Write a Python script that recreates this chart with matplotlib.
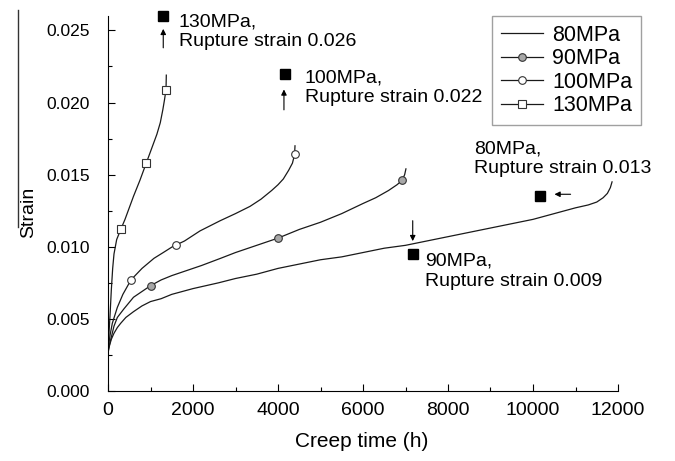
import matplotlib
matplotlib.use('Agg')
import matplotlib.pyplot as plt  # lib for graphs
from matplotlib.ticker import MultipleLocator
from matplotlib.lines import Line2D

plt.rcParams['font.family'] = ['Liberation Sans', 'DejaVu Sans']

# creep curves (time in h, strain)
t80 = [0, 15, 40, 80, 140, 220, 300, 420, 600, 800, 1000, 1250, 1500, 1750,
       2000, 2300, 2600, 3000, 3500, 4000, 4500, 5000, 5500, 6000, 6500, 7000,
       7500, 8000, 8500, 9000, 9500, 10000, 10500, 11000, 11300, 11500, 11650,
       11750, 11820, 11860]
s80 = [0.0026, 0.0029, 0.0032, 0.0036, 0.0040, 0.0044, 0.0047, 0.0051, 0.0055,
       0.0059, 0.0062, 0.0064, 0.0067, 0.0069, 0.0071, 0.0073, 0.0075, 0.0078,
       0.0081, 0.0085, 0.0088, 0.0091, 0.0093, 0.0096, 0.0099, 0.0101, 0.0104,
       0.0107, 0.0110, 0.0113, 0.0116, 0.0119, 0.0123, 0.0127, 0.0129, 0.0131,
       0.0134, 0.0137, 0.0141, 0.0145]

t90 = [0, 20, 50, 100, 141, 220, 376, 600, 800, 1000, 1250, 1500, 1800, 2200,
       2650, 3000, 3500, 4000, 4500, 5000, 5500, 6000, 6300, 6600, 6800, 6920,
       6980, 7010]
s90 = [0.0026, 0.0030, 0.0034, 0.0040, 0.0045, 0.0051, 0.0057, 0.0065, 0.0069,
       0.0073, 0.0077, 0.0080, 0.0083, 0.0087, 0.0092, 0.0096, 0.0101, 0.0106,
       0.0112, 0.0117, 0.0123, 0.0130, 0.0134, 0.0139, 0.0143, 0.0146, 0.0150,
       0.0154]

t100 = [0, 20, 50, 102, 220, 350, 540, 800, 1082, 1300, 1514, 1800, 2165, 2635,
        3000, 3341, 3600, 3850, 4000, 4125, 4250, 4340, 4390, 4400]
s100 = [0.0026, 0.0033, 0.0039, 0.0047, 0.0058, 0.0067, 0.0077, 0.0085, 0.0092,
        0.0096, 0.0100, 0.0104, 0.0111, 0.0118, 0.0123, 0.0128, 0.0133, 0.0139,
        0.0143, 0.0147, 0.0153, 0.0158, 0.0164, 0.0170]

t130 = [0, 10, 25, 47, 78, 110, 141, 204, 300, 400, 500, 600, 750, 900, 1050,
        1150, 1230, 1290, 1330, 1365, 1372]
s130 = [0.0026, 0.0032, 0.0041, 0.0052, 0.0070, 0.0085, 0.0095, 0.0105, 0.0112,
        0.0119, 0.0127, 0.0135, 0.0146, 0.0158, 0.0170, 0.0178, 0.0186, 0.0195,
        0.0202, 0.0209, 0.0219]

# marker points on the curves
m90_t = [1000, 4000, 6920]
m90_s = [0.0073, 0.0106, 0.0146]
m100_t = [540, 1600, 4390]
m100_s = [0.0077, 0.0101, 0.0164]
m130_t = [300, 900, 1365]
m130_s = [0.0112, 0.0158, 0.0209]

# rupture points (130, 100, 80, 90 MPa)
rup_t = [1300, 4160, 10165, 7170]
rup_s = [0.0260, 0.0220, 0.0135, 0.0095]
rup_text = ['130MPa,\nRupture strain 0.026', '100MPa,\nRupture strain 0.022',
            '80MPa,\nRupture strain 0.013', '90MPa,\nRupture strain 0.009']

fig = plt.figure(figsize=(6.75, 4.61), dpi=100)
ax = fig.add_axes([108/675, 1-391/461, 510/675, 375/461])

lc = '#1a1a1a'
ax.plot(t80, s80, color=lc, lw=0.9)
ax.plot(t90, s90, color=lc, lw=0.9)
ax.plot(t100, s100, color=lc, lw=0.9)
ax.plot(t130, s130, color=lc, lw=0.9)
ax.plot(m90_t, m90_s, 'o', ms=5.5, mfc='#a8a8a8', mec='#333333', mew=0.8)
ax.plot(m100_t, m100_s, 'o', ms=5.5, mfc='white', mec='#333333', mew=0.8)
ax.plot(m130_t, m130_s, 's', ms=6, mfc='white', mec='#333333', mew=0.8)
ax.plot(rup_t, rup_s, 's', ms=7, color='black', clip_on=False)

# arrows pointing at the rupture marks
arr = dict(arrowstyle='-|>', color='black', lw=0.8, mutation_scale=8)
ax.annotate('', xy=(1300, 0.0253), xytext=(1300, 0.0236), arrowprops=arr)
ax.annotate('', xy=(4140, 0.0211), xytext=(4140, 0.0193), arrowprops=arr)
ax.annotate('', xy=(10440, 0.01364), xytext=(10950, 0.01364), arrowprops=arr)
ax.annotate('', xy=(7170, 0.0102), xytext=(7170, 0.0120), arrowprops=arr)

# labels next to the rupture marks
ax.text(1670, 0.0249, rup_text[0], fontsize=14, va='center', ha='left')
ax.text(4630, 0.0210, rup_text[1], fontsize=14, va='center', ha='left')
ax.text(8610, 0.0161, rup_text[2], fontsize=14, va='center', ha='left')
ax.text(7460, 0.0083, rup_text[3], fontsize=14, va='center', ha='left')

ax.set_xlim(0, 12000)
ax.set_ylim(0, 0.026)
ax.xaxis.set_major_locator(MultipleLocator(2000))
ax.xaxis.set_minor_locator(MultipleLocator(1000))
ax.yaxis.set_major_locator(MultipleLocator(0.005))
ax.yaxis.set_minor_locator(MultipleLocator(0.0025))
ax.yaxis.set_major_formatter(plt.FormatStrFormatter('%.3f'))
ax.spines['top'].set_visible(False)
ax.spines['right'].set_visible(False)
ax.tick_params(which='both', direction='in', width=0.8)
ax.tick_params(which='major', length=5)
ax.tick_params(which='minor', length=3)
ax.tick_params(axis='y', labelsize=12.5, pad=13)
ax.tick_params(axis='x', labelsize=14, pad=8)

ax.set_xlabel('Creep time (h)', fontsize=15)
ax.set_ylabel('Strain', fontsize=14)
ax.xaxis.set_label_coords(0.498, -0.108)
ax.yaxis.set_label_coords(-0.139, 0.477)

handles = [
    Line2D([], [], color=lc, lw=0.9),
    Line2D([], [], color=lc, lw=0.9, marker='o', ms=5.5, mfc='#a8a8a8', mec='#333333', mew=0.8),
    Line2D([], [], color=lc, lw=0.9, marker='o', ms=5.5, mfc='white', mec='#333333', mew=0.8),
    Line2D([], [], color=lc, lw=0.9, marker='s', ms=6, mfc='white', mec='#333333', mew=0.8),
]
leg = fig.legend(handles, ['80MPa', '90MPa', '100MPa', '130MPa'], loc='upper left',
                 bbox_to_anchor=(492/675, 1-16/461), fontsize=15.5, fancybox=False,
                 edgecolor='#888888', handlelength=1.95, handletextpad=0.45,
                 labelspacing=0.12, borderpad=0.4, borderaxespad=0)
leg.get_frame().set_linewidth(1.0)

# thin vertical line beside the y label
fig.add_artist(Line2D([18/675, 18/675], [1-10/461, 1-227/461], color='#333333', lw=1))

fig.savefig('out.png', dpi=100)
